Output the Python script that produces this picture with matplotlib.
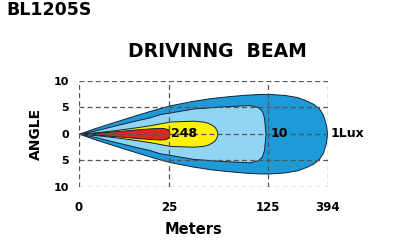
"""Driving beam isolux plot for BL1205S."""

import matplotlib

matplotlib.use("Agg")
import numpy as np
from matplotlib import pyplot as plt

# distance ticks (m) and where they sit along the axis (uneven spacing)
x_ticks = [0, 25, 125, 394]
x_tick_pos = [0, 90, 189, 249]
y_ticks = [10, 5, 0, -5, -10]
y_tick_labels = ["10", "5", "0", "5", "10"]

# upper half of each isolux contour: distance (m) -> half angle (deg)
lux1_m = [0, 4.4, 9.7, 15.8, 19.7, 22.5, 26.0, 38.1, 49.2, 66.4, 83.6, 101.8,
          116.9, 134, 201, 255, 291, 327, 354, 372, 385, 390]
lux1_deg = [0, 1.05, 2.2, 3.5, 4.3, 4.85, 5.35, 5.8, 6.2, 6.7, 7.05, 7.35,
            7.5, 7.5, 7.3, 6.92, 6.36, 5.66, 4.75, 3.53, 1.64, 0]

lux10_m = [0, 4.4, 9.7, 15.8, 19.7, 22.5, 26.0, 49.2, 83.6, 106.8, 114.9, 118.9, 121, 122.5]
lux10_deg = [0, 0.6, 1.5, 2.5, 3.1, 3.7, 4.0, 4.75, 5.2, 5.4, 5.0, 4.3, 3.0, 0]

lux248_m = [0, 4.4, 9.7, 15.8, 19.7, 22.5, 26.0, 49.2, 59.3, 64.4, 68.4, 71.5, 73.4, 73.9]
lux248_deg = [0, 0.25, 0.65, 1.2, 1.6, 1.95, 2.3, 2.45, 2.3, 2.05, 1.65, 1.2, 0.45, 0]

hot_m = [0, 4.4, 9.7, 15.8, 19.7, 22.5, 23.6, 24.7, 25.1, 25.3]
hot_deg = [0, 0.15, 0.45, 0.8, 1.0, 1.1, 1.05, 0.85, 0.45, 0]

zones = [
    (lux1_m, lux1_deg, "#1f9ad8"),
    (lux10_m, lux10_deg, "#92d4f4"),
    (lux248_m, lux248_deg, "#fff200"),
    (hot_m, hot_deg, "#e42420"),
]

# value labels on the beam axis: (distance, text)
lux_labels = [(25, "248"), (125, "10"), (394, "1Lux")]


def _fwd(m):
    return np.interp(np.asarray(m, float), x_ticks, x_tick_pos)


def _inv(p):
    return np.interp(np.asarray(p, float), x_tick_pos, x_ticks)


plt.rcParams["font.family"] = "DejaVu Sans"
plt.rcParams["font.weight"] = "bold"

fig = plt.figure(figsize=(4.02, 2.48), dpi=100)
ax = fig.add_axes([79 / 402, 1 - 186.7 / 248, 249 / 402, 106 / 248])
ax.set_xscale("function", functions=(_fwd, _inv))

for xs, ys, color in zones:
    xs = np.array(xs)
    ys = np.array(ys)
    ax.fill_between(xs, -ys, ys, facecolor=color, edgecolor="#10233a", linewidth=0.7, zorder=1)

ax.set_xlim(0, 394)
ax.set_ylim(-10, 10)
ax.set_xticks(x_ticks, [str(v) for v in x_ticks])
ax.set_yticks(y_ticks, y_tick_labels)
ax.tick_params(axis="x", length=0, pad=10, labelsize=8.5)
ax.tick_params(axis="y", length=0, pad=7, labelsize=8)
for spine in ax.spines.values():
    spine.set_visible(False)
ax.set_axisbelow(False)
ax.grid(True, color="#555555", linewidth=0.9, linestyle=(0, (4, 2.5)), zorder=2.5)

for dist, label in lux_labels:
    ax.annotate(label, (dist, 0), xytext=(1.5, 0), textcoords="offset points",
                ha="left", va="center", fontsize=9, fontweight="bold", zorder=3,
                annotation_clip=False)

ax.set_ylabel("ANGLE", fontsize=10, fontweight="bold", labelpad=8)
ax.set_xlabel("Meters", fontsize=10.5, fontweight="bold", va="center")
ax.xaxis.set_label_coords((194 - 79) / 249, (186.7 - 229) / 106)

fig.text(6 / 402, 1 - 10 / 248, "BL1205S", ha="left", va="center", fontsize=12.5, fontweight="bold")
fig.text(217 / 402, 1 - 51.5 / 248, "DRIVINNG  BEAM", ha="center", va="center",
         fontsize=13.5, fontweight="bold")

fig.savefig("out.png", dpi=100)
plt.close(fig)
